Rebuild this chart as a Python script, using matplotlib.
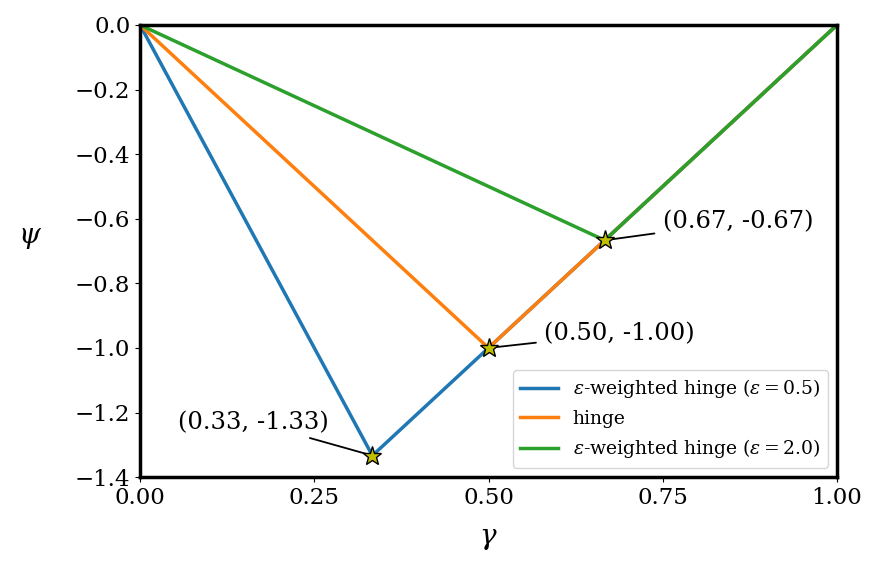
import matplotlib
matplotlib.use('Agg')
import matplotlib.pyplot as plt

plt.rcParams['font.family'] = 'DejaVu Serif'
plt.rcParams['mathtext.fontset'] = 'dejavuserif'

# pontos de cada curva (gamma, psi)
gamma_05 = [0.0, 1 / 3, 1.0]
psi_05 = [0.0, -4 / 3, 0.0]
gamma_hinge = [0.0, 0.5, 1.0]
psi_hinge = [0.0, -1.0, 0.0]
gamma_20 = [0.0, 2 / 3, 1.0]
psi_20 = [0.0, -2 / 3, 0.0]

rotulos = [r'$\varepsilon$-weighted hinge ($\varepsilon=0.5$)', 'hinge',
           r'$\varepsilon$-weighted hinge ($\varepsilon=2.0$)']

# minimos marcados com estrela e posicao dos textos
minimos = [(1 / 3, -4 / 3), (0.5, -1.0), (2 / 3, -2 / 3)]
pos_texto = [(0.055, -1.23), (0.58, -0.955), (0.75, -0.61)]

fig = plt.figure(figsize=(8.81, 5.68), dpi=100)
ax = fig.add_axes([0.159, 0.160, 0.791, 0.796])

ax.plot(gamma_05, psi_05, linewidth=2.5, label=rotulos[0])
ax.plot(gamma_hinge, psi_hinge, linewidth=2.5, label=rotulos[1])
ax.plot(gamma_20, psi_20, linewidth=2.5, label=rotulos[2])

for (mx, my), (tx, ty) in zip(minimos, pos_texto):
    ax.annotate(f'({mx:.2f}, {my:.2f})', xy=(mx, my), xytext=(tx, ty),
                fontsize=17.5, va='center',
                arrowprops=dict(arrowstyle='-', color='black', linewidth=1.3,
                                shrinkA=4, shrinkB=0))
    ax.plot(mx, my, marker='*', markersize=14, color='y',
            markeredgecolor='black', zorder=5)

ax.set_xlim(0, 1)
ax.set_ylim(-1.4, 0)
ax.set_xticks([0, 0.25, 0.5, 0.75, 1.0])
ax.set_xlabel(r'$\gamma$', fontsize=20)
ax.set_ylabel(r'$\psi$', fontsize=20, rotation=0)
ax.xaxis.set_label_coords(0.5, -0.105)
ax.yaxis.set_label_coords(-0.158, 0.5)
ax.tick_params(labelsize=16.5)
for s in ax.spines.values():
    s.set_linewidth(2.5)
ax.legend(loc='lower right', fontsize=13.5)

fig.savefig('out.png')
